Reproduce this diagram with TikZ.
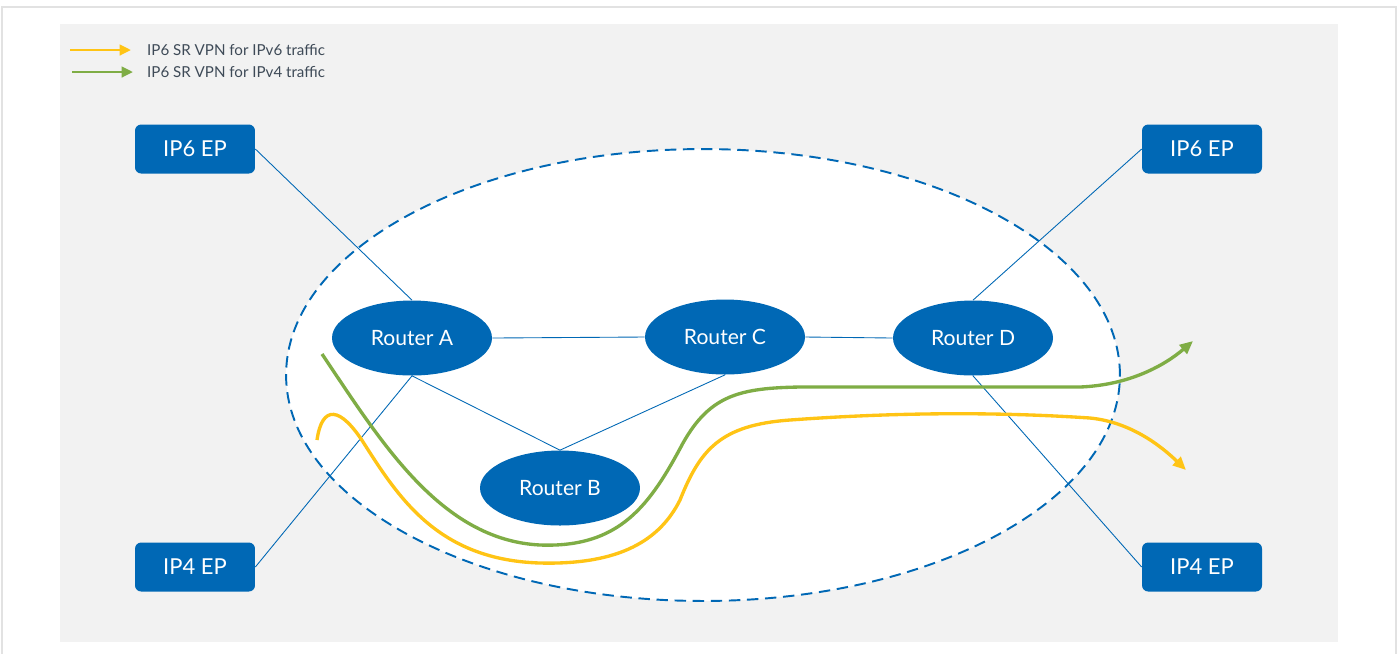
\documentclass[tikz,border=0pt]{standalone}
\usepackage{fontspec}
\setmainfont{Lato}
\usetikzlibrary{shapes.geometric, arrows.meta}

\definecolor{netblue}{HTML}{0068B5}
\definecolor{vpnyellow}{HTML}{FFC415}
\definecolor{vpngreen}{HTML}{7FAD45}
\definecolor{panelgray}{HTML}{F2F2F2}
\definecolor{framegray}{HTML}{E2E2E2}
\definecolor{legendtext}{HTML}{3E4A57}

\begin{document}
\begin{tikzpicture}[x=0.02cm, y=-0.02cm,
    router/.style={ellipse, fill=netblue, text=white, minimum width=3.2cm, minimum height=1.5cm, inner sep=0pt, font=\fontsize{12}{14}\selectfont},
    epbox/.style={rectangle, rounded corners=3.5pt, fill=netblue, text=white, minimum width=2.4cm, minimum height=0.98cm, inner sep=0pt, font=\fontsize{12.5}{14}\selectfont},
    link/.style={netblue, line width=0.5pt},
    flow/.style={line width=1.9pt, -{Triangle[length=7.5pt, width=6.5pt]}}]
    \useasboundingbox (0,0) rectangle (1398,654);

    % 外框与灰色底板
    \draw[framegray, line width=0.6pt] (2,654) |- (1396,7) -- (1396,654);
    \fill[panelgray] (60,24) rectangle (1338,642);

    % 图例
    \coordinate (y0) at (70,50);
    \coordinate (y1) at (131,50);
    \coordinate (g0) at (72,72);
    \coordinate (g1) at (133,72);
    \draw[flow, vpnyellow, line width=1.6pt, -{Triangle[length=6.5pt, width=6pt]}] (y0) -- (y1);
    \draw[flow, vpngreen, line width=1.6pt, -{Triangle[length=6.5pt, width=6pt]}] (g0) -- (g1);
    \node[anchor=west, text=legendtext, font=\fontsize{8.6}{10}\selectfont] (ly) at (141,50) {IP6 SR VPN for IPv6 traffic};
    \node[anchor=west, text=legendtext, font=\fontsize{8.6}{10}\selectfont] (lg) at (141,72) {IP6 SR VPN for IPv4 traffic};

    % 虚线椭圆区域
    \draw[netblue, line width=1.1pt, dash pattern=on 6.5pt off 3.8pt, fill=white]
        (703,375) ellipse [x radius=8.34cm, y radius=4.52cm];

    % 路由器
    \node[router] (ra) at (412,338) {Router A};
    \node[router] (rb) at (560,488) {Router B};
    \node[router] (rc) at (725,337) {Router C};
    \node[router] (rd) at (973,338) {Router D};

    % 端点
    \foreach \n/\x/\y/\t in {e6l/195/149/IP6 EP, e4l/195/567/IP4 EP, e6r/1202/149/IP6 EP, e4r/1202/567/IP4 EP}
        \node[epbox] (\n) at (\x,\y) {\t};

    % 连线
    \draw[link] (e6l.east) -- (ra.north);
    \draw[link] (e4l.east) -- (ra.south);
    \draw[link] (ra.east) -- (rc.west);
    \draw[link] (rc.east) -- (rd.west);
    \draw[link] (ra.south) -- (rb.north);
    \draw[link] (rc.south) -- (rb.north);
    \draw[link] (rd.north) -- (e6r.west);
    \draw[link] (rd.south) -- (e4r.west);

    % IPv4 流量路径
    \coordinate (gs) at (322,354);
    \coordinate (ge) at (1193,341);
    \draw[flow, vpngreen] (gs) .. controls (380,440) and (440,540) .. (540,545)
        .. controls (620,548) and (650,505) .. (683,443)
        .. controls (710,395) and (740,388) .. (800,387)
        -- (1080,387) .. controls (1130,385) and (1165,365) .. (ge);

    % IPv6 流量路径
    \coordinate (ys) at (317,440);
    \coordinate (ye) at (1186,470);
    \draw[flow, vpnyellow] (ys) .. controls (322,405) and (340,405) .. (365,445)
        .. controls (400,500) and (440,560) .. (540,563)
        .. controls (620,565) and (660,540) .. (680,500)
        .. controls (700,450) and (720,425) .. (790,420)
        .. controls (900,412) and (1000,412) .. (1090,418)
        .. controls (1130,422) and (1160,445) .. (ye);
\end{tikzpicture}
\end{document}
